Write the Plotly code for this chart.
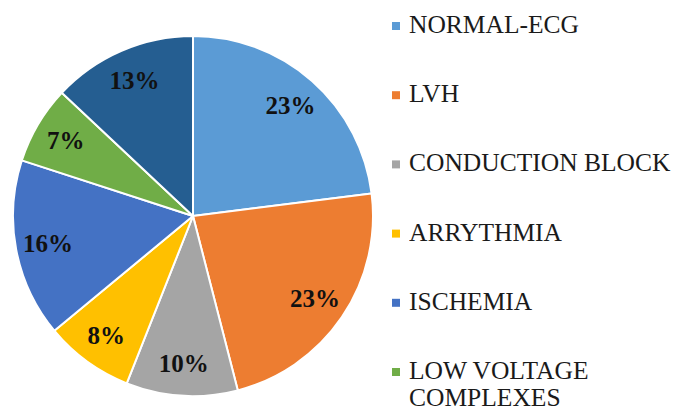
import plotly.graph_objects as go
import textwrap

# ---- data ----
categories = ["NORMAL-ECG", "LVH", "CONDUCTION BLOCK", "ARRYTHMIA",
              "ISCHEMIA", "LOW VOLTAGE COMPLEXES", "OTHERS"]
shares = [23, 23, 10, 8, 16, 7, 13]
colors = ["#5B9BD5", "#ED7D31", "#A5A5A5", "#FFC000",
          "#4472C4", "#70AD47", "#255E91"]
legend_visible = 6  # the reference image crops the legend after six entries

W, H = 673, 410
FONT = "Times New Roman, Liberation Serif, serif"

def px(x):
    return x / W

def py(y):
    return 1 - y / H

pie_domain = dict(x=[px(13), px(373)], y=[py(396), py(36)])

fig = go.Figure()
# coloured slices
fig.add_trace(go.Pie(
    labels=categories,
    values=shares,
    sort=False,
    direction="clockwise",
    rotation=0,
    marker=dict(colors=colors, line=dict(color="white", width=2)),
    textinfo="none",
    domain=pie_domain,
    showlegend=False,
    hoverinfo="label+percent",
))
# transparent ring carrying the percentage labels near the outer edge
fig.add_trace(go.Pie(
    labels=categories,
    values=shares,
    sort=False,
    direction="clockwise",
    rotation=0,
    hole=0.64,
    marker=dict(colors=["rgba(0,0,0,0)"] * len(shares),
                line=dict(color="rgba(0,0,0,0)", width=0)),
    texttemplate="%{value}%",
    textposition="inside",
    insidetextorientation="horizontal",
    textfont=dict(family=FONT, size=25, color="#111111", weight="bold"),
    domain=pie_domain,
    showlegend=False,
    hoverinfo="skip",
))

# ---- custom legend (spacing like the reference) ----
shapes = []
annotations = []
row_y = 24
row_gap = 69.2
line_gap = 26.5
for i in range(legend_visible):
    lines = textwrap.wrap(categories[i], 18)
    shapes.append(dict(type="rect", xref="paper", yref="paper",
                       x0=px(392), x1=px(400), y0=py(row_y - 2), y1=py(row_y + 6),
                       fillcolor=colors[i], line=dict(width=0)))
    for j, ln in enumerate(lines):
        annotations.append(dict(
            xref="paper", yref="paper", x=px(407), y=py(row_y + j * line_gap),
            xanchor="left", yanchor="middle", showarrow=False, text=ln,
            height=26, valign="middle",
            font=dict(family=FONT, size=25.5, color="#1a1a1a")))
    row_y += row_gap

fig.update_layout(
    width=W, height=H,
    margin=dict(l=0, r=0, t=0, b=0),
    paper_bgcolor="white",
    plot_bgcolor="white",
    shapes=shapes,
    annotations=annotations,
)

fig.write_html("out.html",
               config={"displayModeBar": False},
               post_script="document.body.style.margin='0';document.body.style.padding='0';")
